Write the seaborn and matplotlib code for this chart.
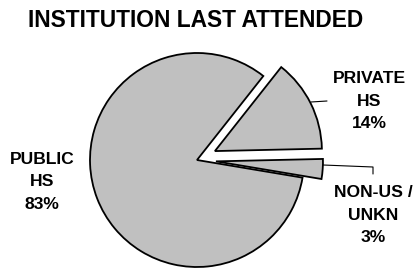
import matplotlib
matplotlib.use("Agg")
import matplotlib.pyplot as plt
import seaborn as sns

categories = ["NON-US /\nUNKN", "PRIVATE\nHS", "PUBLIC\nHS"]
shares = [3, 14, 83]

sns.set_theme(style="white")
plt.rcParams['font.family'] = ['Liberation Sans', 'DejaVu Sans']

W, H = 413, 268
fig = plt.figure(figsize=(W / 100, H / 100), dpi=100)
ax = fig.add_axes([0, 0, 1, 1])

def py(y):
    return H - y

cx, cy, r = 197, 160, 107
explode = [19, 20, 0]  # offset in data (pixel) units
ax.pie(shares, explode=explode, startangle=-9.5, counterclock=True,
       colors=['#c0c0c0'] * 3, center=(cx, py(cy)), radius=r,
       wedgeprops=dict(edgecolor='black', linewidth=1.3), frame=True)
ax.set_xlim(0, W)
ax.set_ylim(0, H)
ax.set_aspect('equal')
ax.axis('off')

fs = 12.6
kw = dict(fontsize=fs, fontweight='bold', ha='center', va='center', linespacing=1.6, color='black')
ax.text(42, py(182), f"{categories[2]}\n{shares[2]}%", **kw)
ax.text(369.5, py(101), f"{categories[1]}\n{shares[1]}%", **kw)
ax.text(373.5, py(215), f"{categories[0]}\n{shares[0]}%", **kw)

ax.plot([311, 327], [py(102), py(101)], color='black', lw=0.8)
ax.plot([323, 373, 373], [py(165), py(167), py(174)], color='black', lw=0.8)

ax.text(196, py(20.5), "INSTITUTION LAST ATTENDED", fontsize=16.4, fontweight='bold',
        ha='center', va='center', color='black')

fig.savefig("out.png", dpi=100)
